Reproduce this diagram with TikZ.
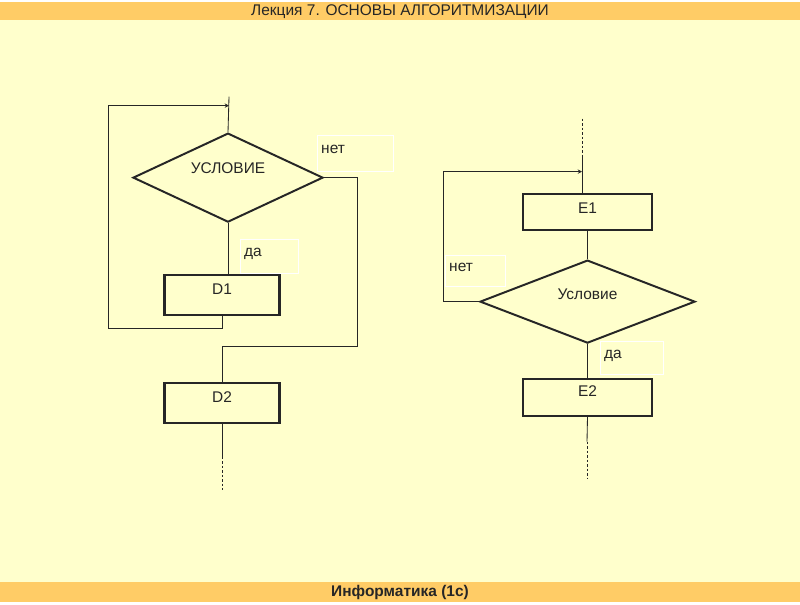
\documentclass[tikz,border=0pt]{standalone}
\usepackage{fontspec}
\setmainfont{Liberation Sans}
\usetikzlibrary{
    calc,
    shapes.geometric,
    arrows.meta
}
\definecolor{band}{HTML}{FFCC66}
\definecolor{paper}{HTML}{FFFFCC}
\definecolor{ink}{HTML}{262626}
\tikzset{
  block/.style={draw=ink,line width=1.6pt,inner sep=0pt,text=ink,
    font=\fontsize{11}{13}\selectfont,text depth=8pt},
  cond/.style={diamond,draw=ink,line width=1.4pt,inner sep=0pt,aspect=2.5,
    text=ink,font=\fontsize{11}{13}\selectfont},
  tag/.style={draw=white,line width=0.6pt,inner sep=3pt,text=ink,
    font=\fontsize{11}{13}\selectfont,align=left,text depth=6pt},
  flow/.style={ink,line width=0.6pt},
  dots/.style={flow,dash pattern=on 2pt off 1.2pt}
}
\newcommand{\TagBox}[5]{%
  \node[tag,minimum width=#3*0.025cm,minimum height=#4*0.025cm,
    text width=#3*0.025cm-6pt] (#1) at (#2) {#5};
}

\begin{document}
\begin{tikzpicture}[x=0.025cm,y=-0.025cm]
% background
\fill[paper] (0,0) rectangle (800,600);
\fill[band] (0,0) rectangle (800,18);
\fill[band] (0,580) rectangle (800,600);
\node[font=\fontsize{11}{13}\selectfont,text=ink] (title) at (400,10) {Лекция 7. ОСНОВЫ АЛГОРИТМИЗАЦИИ};
\node[font=\bfseries\fontsize{11}{13}\selectfont,text=ink] (foot) at (400,590.5) {Информатика (1с)};
% left scheme
\coordinate (inL) at (229,95);
\coordinate (joinL) at (229,104);
\coordinate (loopL) at (108,327);
\coordinate (bendL) at (357,345);
\coordinate (tailL) at (222,455);
\coordinate (endL) at (222,488);
\node[cond,minimum width=4.75cm,minimum height=2.225cm,text depth=14pt] (usl) at (228,176) {УСЛОВИЕ};
\node[block,minimum width=2.875cm,minimum height=1cm] (D1) at (222,293) {D1};
\node[block,minimum width=2.875cm,minimum height=1cm] (D2) at (222,401) {D2};
\TagBox{netL}{355,151.5}{76}{36}{нет}
\TagBox{daL}{269,255}{58}{34}{да}
\draw[flow] (inL) -- (usl.north);
\draw[flow] (usl.south) -- (usl.south |- D1.north);
\draw[flow,-{Stealth[length=3pt,width=3pt]}] (D1.south) |- (loopL) |- (joinL);
\draw[flow] (usl.east) -| (bendL) -| (D2.north);
\draw[flow] (D2.south) -- (tailL);
\draw[dots] (tailL) -- (endL);
% right scheme
\coordinate (inR) at (582,117);
\coordinate (midR) at (582,155);
\coordinate (joinR) at (582,170);
\coordinate (loopR) at (443,300);
\coordinate (tailR) at (587,440);
\coordinate (endR) at (587,477);
\node[block,minimum width=3.225cm,minimum height=0.9cm,text depth=4.5pt] (E1) at (587.5,210) {E1};
\node[cond,minimum width=5.375cm,minimum height=2.075cm,text depth=10pt] (usl2) at (587.5,300) {Условие};
\node[block,minimum width=3.225cm,minimum height=0.925cm] (E2) at (587.5,395.5) {E2};
\TagBox{netR}{475,269.5}{60}{31}{нет}
\TagBox{daR}{631.5,356.5}{63}{33}{да}
\draw[dots] (inR) -- (midR);
\draw[flow] (midR) -- (midR |- E1.north);
\draw[flow,-{Stealth[length=3pt,width=3pt]}] (usl2.west) -- (loopR) |- (joinR);
\draw[flow] (E1.south) -- (usl2.north);
\draw[flow] (usl2.south) -- (E2.north);
\draw[flow] (E2.south) -- (tailR);
\draw[dots] (tailR) -- (endR);
\end{tikzpicture}
\end{document}
